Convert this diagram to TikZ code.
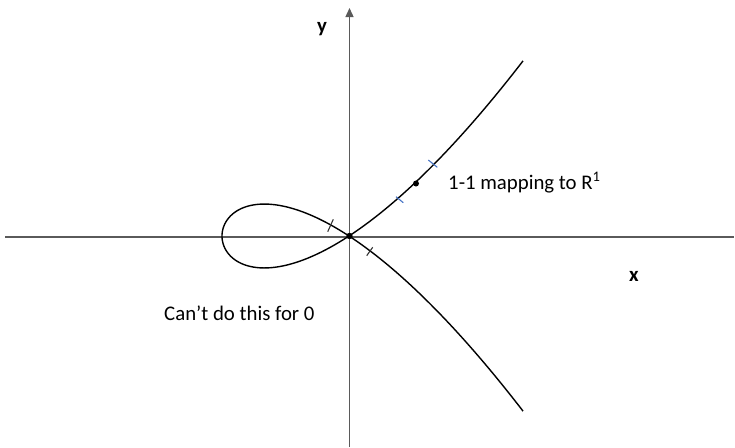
\documentclass[tikz,border=0pt]{standalone}
\usepackage{fontspec}
\setmainfont{Carlito}
\usetikzlibrary{arrows.meta}
\definecolor{axisgray}{RGB}{90,90,90}
\definecolor{tickblue}{RGB}{68,114,196}
\begin{document}
\begin{tikzpicture}[x=1pt,y=-1pt,
  axis/.style={draw=axisgray,line width=1.3pt},
  curve/.style={draw=black,line width=1.4pt},
  darktick/.style={draw=black!80,line width=1.1pt},
  bluetick/.style={draw=tickblue,line width=1.1pt},
  lbl/.style={inner sep=0pt,font=\fontsize{20.8}{24}\selectfont},
  axlbl/.style={inner sep=0pt,font=\fontsize{20.8}{24}\selectfont\bfseries}]
\useasboundingbox (0,0) rectangle (735,447);
% axes
\coordinate (xl) at (5,237);
\coordinate (xr) at (734,237);
\coordinate (yb) at (349.5,447);
\coordinate (yt) at (349.5,8);
\draw[axis] (xl) -- (xr);
\draw[axis,-{Triangle[length=9pt,width=8pt]}] (yb) -- (yt);
% nodal cubic
\draw[curve] plot[domain=-17.35:17.35,samples=240,smooth,variable=\t]
  ({222+\t*\t},{236-0.058*\t*(\t*\t-127)});
% ticks
\draw[darktick] (327.7,231.7) -- (333.3,219.3);
\draw[darktick] (366.7,255.7) -- (372.7,247.3);
\draw[bluetick] (428.3,160) -- (437.3,167.3);
\draw[bluetick] (396,196.7) -- (403.3,202.7);
% points
\fill (349.5,236) circle (3.2);
\fill (416,183.5) circle (3);
% labels
\node[axlbl] (ylab) at (322,29) {y};
\node[axlbl] (xlab) at (634,276) {x};
\node[lbl,anchor=base west] (map) at (448,189) {1-1 mapping to R\textsuperscript{1}};
\node[lbl,anchor=base west] (cant) at (164,320) {Can’t do this for 0};
\end{tikzpicture}
\end{document}
